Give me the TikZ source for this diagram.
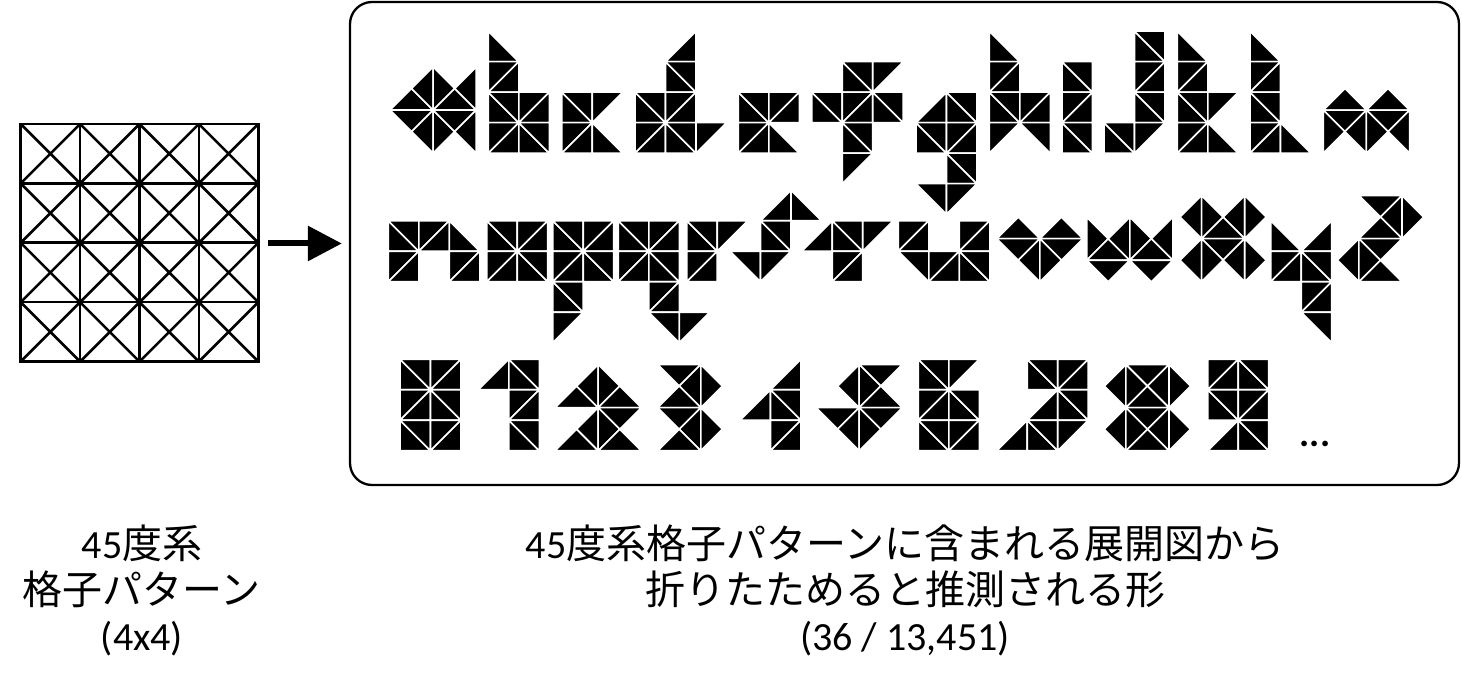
\documentclass[tikz,border=0pt]{standalone}
\usepackage{fontspec}
\setmainfont{Carlito}
\newfontfamily\jpfont{Noto Sans CJK JP}
\usetikzlibrary{arrows.meta}

\tikzset{tri/.style={fill=black, draw=white, line width=0.8pt, line join=round}}

% half cells of the square lattice
\newcommand\hctl[2]{\fill[tri] (#1,#2) -- (#1+1,#2) -- (#1,#2+1) -- cycle;}
\newcommand\hctr[2]{\fill[tri] (#1,#2) -- (#1+1,#2) -- (#1+1,#2+1) -- cycle;}
\newcommand\hcbl[2]{\fill[tri] (#1,#2) -- (#1,#2+1) -- (#1+1,#2+1) -- cycle;}
\newcommand\hcbr[2]{\fill[tri] (#1+1,#2) -- (#1+1,#2+1) -- (#1,#2+1) -- cycle;}
\newcommand\hcs[2]{\hctl{#1}{#2}\hcbr{#1}{#2}}
\newcommand\hcb[2]{\hcbl{#1}{#2}\hctr{#1}{#2}}
% half cells of the 45 degree lattice
\newcommand\dhU[2]{\fill[tri] (#1-1,#2) -- (#1+1,#2) -- (#1,#2-1) -- cycle;}
\newcommand\dhD[2]{\fill[tri] (#1-1,#2) -- (#1+1,#2) -- (#1,#2+1) -- cycle;}
\newcommand\dhL[2]{\fill[tri] (#1,#2-1) -- (#1,#2+1) -- (#1-1,#2) -- cycle;}
\newcommand\dhR[2]{\fill[tri] (#1,#2-1) -- (#1,#2+1) -- (#1+1,#2) -- cycle;}
\newcommand\dhH[2]{\dhU{#1}{#2}\dhD{#1}{#2}}
\newcommand\dhV[2]{\dhL{#1}{#2}\dhR{#1}{#2}}

\newcommand\sqglyph[3]{\begin{scope}[shift={(#1,#2)}, x=15.25pt, y=-15.25pt]
  \foreach \cx/\cy/\ck in {#3} {\csname hc\ck\endcsname{\cx}{\cy}}
\end{scope}}
\newcommand\diaglyph[3]{\begin{scope}[shift={(#1,#2)}, x=10.783pt, y=-10.783pt]
  \foreach \cx/\cy/\ck in {#3} {\csname dh\ck\endcsname{\cx}{\cy}}
\end{scope}}

\begin{document}
\begin{tikzpicture}[x=0.5pt, y=-0.5pt, >={Triangle[length=17pt, width=17pt]}, every node/.style={inner sep=0pt}]
\useasboundingbox (0,0) rectangle (1462,689);

% 4x4 crease pattern
\begin{scope}[shift={(20.7,124)}, x=29.7pt, y=-29.7pt, line width=1.3pt]
  \foreach \gx in {0,...,3} \foreach \gy in {0,...,3}
    \draw (\gx,\gy) -- (\gx+1,\gy+1) (\gx+1,\gy) -- (\gx,\gy+1);
  \foreach \g in {0,...,4} {\draw[line cap=rect] (\g,0) -- (\g,4); \draw[line cap=rect] (0,\g) -- (4,\g);}
\end{scope}
\coordinate (grid_east) at (258.3,243.5);

\node[draw, line width=1.15pt, rounded corners=11pt, minimum width=554.5pt, minimum height=241.5pt] (glyph_box) at (904.5,243.5) {};
\draw[->, line width=3pt, shorten <=5pt, shorten >=3.5pt] (grid_east) -- (grid_east -| glyph_box.west);

% a - m
\diaglyph{390}{66.9}{1/2/H,2/1/V,2/3/V,3/2/H,4/1/L,4/3/L}
\sqglyph{488.3}{31.2}{0/0/bl,0/1/s,0/2/b,1/2/s,0/3/s,1/3/b}
\sqglyph{561.7}{31.2}{0/2/b,1/2/tl,0/3/s,1/3/bl}
\sqglyph{635}{31.2}{1/0/br,1/1/b,0/2/b,1/2/s,0/3/s,1/3/b,2/3/tl}
\sqglyph{738.3}{31.2}{0/2/b,1/2/s,0/3/s,1/3/bl}
\sqglyph{811.7}{31.2}{1/1/b,2/1/tl,0/2/b,1/2/s,2/2/b,1/3/b,1/4/tl}
\sqglyph{916}{31.2}{0/2/br,1/2/b,0/3/b,1/3/s,1/4/b,0/5/tr,1/5/tl}
\sqglyph{989.3}{31.2}{0/0/bl,0/1/s,0/2/b,1/2/s,0/3/tl,1/3/tr}
\sqglyph{1062}{31.2}{0/1/b,0/2/s,0/3/b}
\sqglyph{1104}{31.2}{1/0/b,1/1/s,1/2/b,0/3/b,1/3/tl}
\sqglyph{1177.3}{31.2}{0/0/bl,0/1/s,0/2/b,1/2/tl,0/3/s,1/3/bl}
\sqglyph{1250}{31.2}{0/0/bl,0/1/s,0/2/b,0/3/s,1/3/bl}
\diaglyph{1323.3}{88.5}{1/1/H,3/1/H,0/2/R,2/2/V,4/2/L}

% n - z
\sqglyph{388.3}{220.8}{0/0/b,1/0/s,2/0/bl,0/1/s,2/1/s}
\sqglyph{486.7}{220.8}{0/0/b,1/0/s,0/1/s,1/1/b}
\sqglyph{552.7}{220.8}{0/0/b,1/0/s,0/1/s,1/1/b,0/2/b,0/3/tl}
\sqglyph{618.3}{220.8}{0/0/b,1/0/s,0/1/s,1/1/b,1/2/s,1/3/tr,2/3/tl}
\sqglyph{686.7}{220.8}{0/0/b,1/0/tl,0/1/s}
\sqglyph{730}{220.8}{1/-1/br,2/-1/bl,1/0/b,0/1/tr,1/1/tl}
\sqglyph{801.7}{220.8}{0/0/br,1/0/b,2/0/tl,1/1/s}
\sqglyph{898.3}{220.8}{0/0/s,2/0/s,0/1/tr,1/1/s,2/1/b}
\diaglyph{996.7}{217.1}{1/1/H,3/1/H,2/2/V}
\diaglyph{1086.7}{217.1}{0/1/R,1/2/H,2/1/V,3/2/H,4/1/L}
\diaglyph{1180}{195.5}{1/1/V,3/1/V,2/2/H,1/3/V,3/3/V}
\sqglyph{1270.7}{220.8}{0/0/bl,1/0/br,0/1/s,1/1/b,1/2/s,1/3/tr}
\diaglyph{1337.3}{195.5}{2/0/D,3/1/V,2/2/H,1/3/V,2/4/U}

% 0 - 9
\sqglyph{400}{359.3}{0/0/b,1/0/s,0/1/s,1/1/b,0/2/b,1/2/s}
\sqglyph{478.3}{359.3}{0/0/br,1/0/b,1/1/s,1/2/b}
\diaglyph{555}{364.5}{1/2/U,2/1/V,3/2/H,2/3/V,1/4/U,3/4/U}
\diaglyph{657.7}{364.5}{1/0/D,2/1/V,1/2/H,2/3/V,1/4/U}
\sqglyph{740}{359.3}{1/0/br,0/1/br,1/1/b,1/2/s}
\diaglyph{816}{364.5}{3/0/D,2/1/V,3/2/H,1/2/D,2/3/V}
\sqglyph{918.3}{359.3}{0/0/b,1/0/tl,0/1/s,1/1/b,0/2/b,1/2/s}
\sqglyph{996.7}{359.3}{1/0/b,2/0/s,1/1/br,2/1/b,0/2/br,1/2/b,2/2/tl}
\diaglyph{1104.3}{364.5}{2/0/D,1/1/V,3/1/V,2/2/H,1/3/V,3/3/V,2/4/U}
\sqglyph{1207.7}{359.3}{0/0/s,1/0/b,0/1/b,1/1/s,0/2/br,1/2/b}
\node[font=\fontsize{19pt}{19pt}\selectfont\bfseries, anchor=base] (dots) at (1315,447) {...};

\node[align=center, font=\fontsize{20pt}{23pt}\selectfont] (left_caption) at (142,590)
  {45{\jpfont 度系}\\{\jpfont 格子パターン}\\(4x4)};
\node[align=center, font=\fontsize{20pt}{23pt}\selectfont] (right_caption) at (905,590)
  {45{\jpfont 度系格子パターンに含まれる展開図から}\\{\jpfont 折りたためると推測される形}\\(36 / 13,451)};
\end{tikzpicture}
\end{document}
